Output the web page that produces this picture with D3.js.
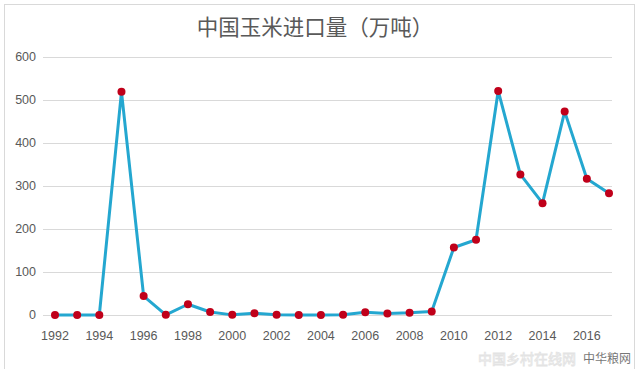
<!DOCTYPE html>
<html>
<head>
<meta charset="utf-8">
<title>中国玉米进口量</title>
<script src="https://cdn.jsdelivr.net/npm/d3@7"></script>
<style>
  body { margin: 0; background: #fff; }
  svg { display: block; font-family: "Noto Sans CJK SC", "Liberation Sans", sans-serif; }
</style>
</head>
<body>
<svg id="chart" width="639" height="369"></svg>
<script>
  // 年份与进口量（万吨）
  var years = [1992, 1993, 1994, 1995, 1996, 1997, 1998, 1999, 2000, 2001, 2002, 2003, 2004,
               2005, 2006, 2007, 2008, 2009, 2010, 2011, 2012, 2013, 2014, 2015, 2016, 2017];
  var imports = [0, 0, 0, 519, 44, 0.3, 25, 7, 0.3, 4, 0.8, 0.1, 0.2,
                 0.4, 6.5, 3.5, 5, 8.4, 157, 175, 521, 327, 260, 473, 317, 283];
  var yTicks = [0, 100, 200, 300, 400, 500, 600];
  var xTicks = [1992, 1994, 1996, 1998, 2000, 2002, 2004, 2006, 2008, 2010, 2012, 2014, 2016];

  var svg = d3.select("#chart");

  // 外框
  svg.append("rect")
    .attr("x", 4.5).attr("y", 4.5)
    .attr("width", 630).attr("height", 380)
    .attr("fill", "#fff").attr("stroke", "#d9d9d9");

  var x = d3.scaleLinear().domain([1992, 2017]).range([55, 609]);
  var y = d3.scaleLinear().domain([0, 600]).range([315, 57]);

  // 网格线
  svg.append("g").selectAll("line").data(yTicks).enter().append("line")
    .attr("x1", 43).attr("x2", 612)
    .attr("y1", function(d) { return y(d) + 0.5; })
    .attr("y2", function(d) { return y(d) + 0.5; })
    .attr("stroke", "#d9d9d9").attr("stroke-width", 1);

  // y轴标签
  svg.append("g").selectAll("text").data(yTicks).enter().append("text")
    .attr("x", 36).attr("y", function(d) { return y(d); })
    .attr("dy", "0.35em").attr("text-anchor", "end")
    .attr("font-size", 12.5).attr("fill", "#595959")
    .attr("font-family", "Liberation Sans, sans-serif")
    .text(function(d) { return d; });

  // x轴标签
  svg.append("g").selectAll("text").data(xTicks).enter().append("text")
    .attr("x", function(d) { return x(d); }).attr("y", 340)
    .attr("text-anchor", "middle")
    .attr("font-size", 12.5).attr("fill", "#595959")
    .attr("font-family", "Liberation Sans, sans-serif")
    .text(function(d) { return d; });

  var data = years.map(function(d, i) { return { year: d, value: imports[i] }; });

  var line = d3.line()
    .x(function(d) { return x(d.year); })
    .y(function(d) { return y(d.value); });

  svg.append("path").datum(data)
    .attr("d", line)
    .attr("fill", "none")
    .attr("stroke", "#24a7d0")
    .attr("stroke-width", 3)
    .attr("stroke-linejoin", "round");

  svg.append("g").selectAll("circle").data(data).enter().append("circle")
    .attr("cx", function(d) { return x(d.year); })
    .attr("cy", function(d) { return y(d.value); })
    .attr("r", 4)
    .attr("fill", "#c0001a");

  // 标题
  svg.append("text")
    .attr("x", 315).attr("y", 35)
    .attr("text-anchor", "middle")
    .attr("font-size", 21.5).attr("fill", "#595959")
    .text("中国玉米进口量（万吨）");

  // 水印
  svg.append("text")
    .attr("x", 478).attr("y", 364)
    .attr("font-size", 14).attr("fill", "none")
    .attr("stroke", "#e3e3e3").attr("stroke-width", 0.8)
    .text("中国乡村在线网");
  svg.append("text")
    .attr("x", 583).attr("y", 363)
    .attr("font-size", 12).attr("fill", "#777")
    .text("中华粮网");
</script>
</body>
</html>
